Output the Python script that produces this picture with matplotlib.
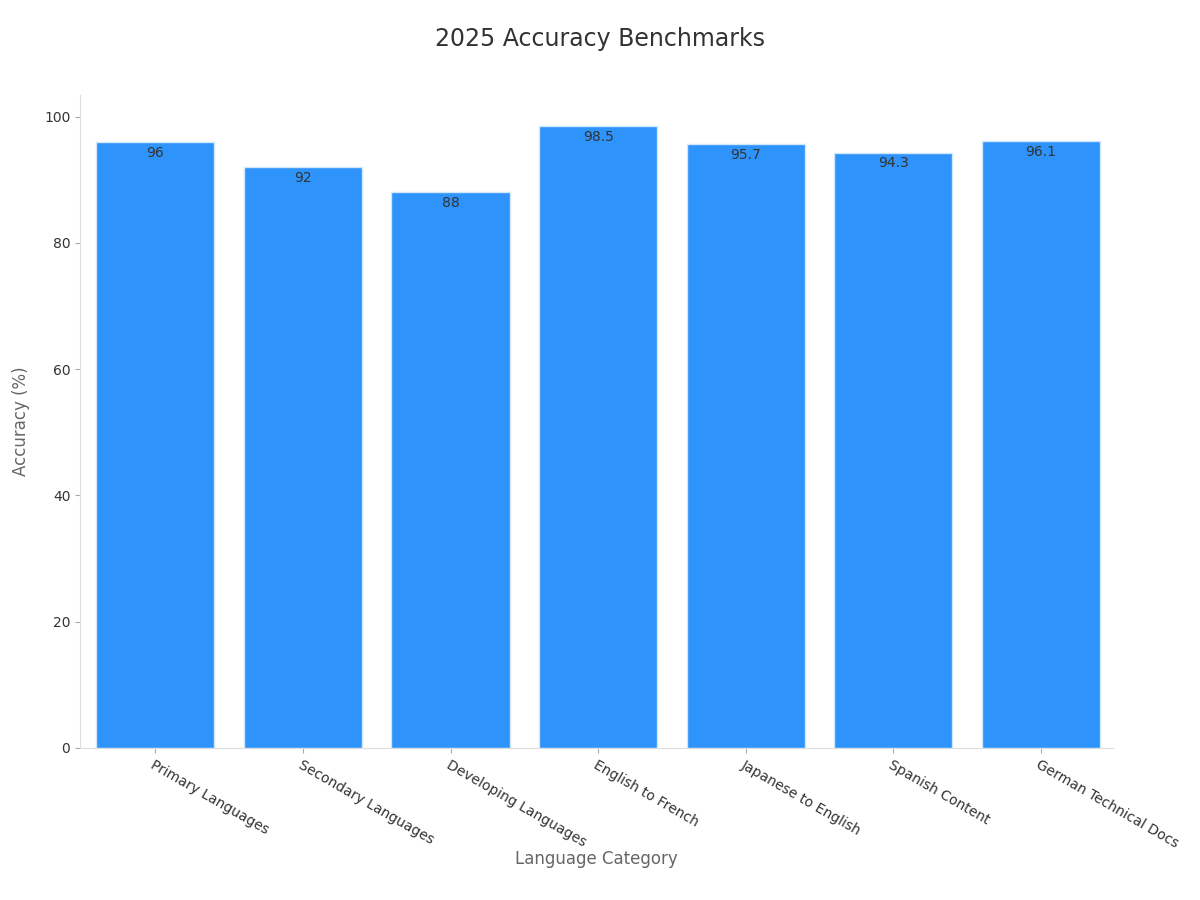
import matplotlib.pyplot as plt

categories = ["Primary Languages", "Secondary Languages", "Developing Languages",
              "English to French", "Japanese to English", "Spanish Content",
              "German Technical Docs"]
accuracy = [96, 92, 88, 98.5, 95.7, 94.3, 96.1]

fig = plt.figure(figsize=(12, 9), dpi=100)
ax = fig.add_axes([0.0667, 0.169, 0.861, 0.726])

bars = ax.bar(range(len(categories)), accuracy, width=0.8, color="#2E93FA",
              edgecolor="#CFE6FC", linewidth=1)
for b, v in zip(bars, accuracy):
    ax.text(b.get_x() + b.get_width() / 2, v - 0.6, f"{v:g}", ha="center", va="top",
            fontsize=10, color="#333333")

ax.set_xlim(-0.51, 6.49)
ax.set_ylim(0, 103.5)
ax.set_yticks([0, 20, 40, 60, 80, 100])
ax.set_xticks(range(len(categories)))
ax.set_xticklabels(categories, rotation=-30, ha="left", rotation_mode="anchor",
                   fontsize=10, color="#333333")
ax.tick_params(axis="y", labelsize=10, colors="#333333")
ax.tick_params(axis="both", color="#AAAAAA")
for s in ["top", "right"]:
    ax.spines[s].set_visible(False)
for s in ["left", "bottom"]:
    ax.spines[s].set_color("#DDDDDD")

ax.set_xlabel("Language Category", fontsize=12, color="#666666")
ax.xaxis.set_label_coords(0.5, -0.2, transform=ax.transAxes)
ax.xaxis.label.set_position((0.5, 0))
ax.xaxis.set_label_coords(0.5, (900 - 880 - 122) / 653.0)
ax.set_ylabel("Accuracy (%)", fontsize=12, color="#666666", labelpad=10)
fig.text(0.5, 0.957, "2025 Accuracy Benchmarks", ha="center", va="center",
         fontsize=17, color="#333333")

plt.savefig("out.png", dpi=100)
